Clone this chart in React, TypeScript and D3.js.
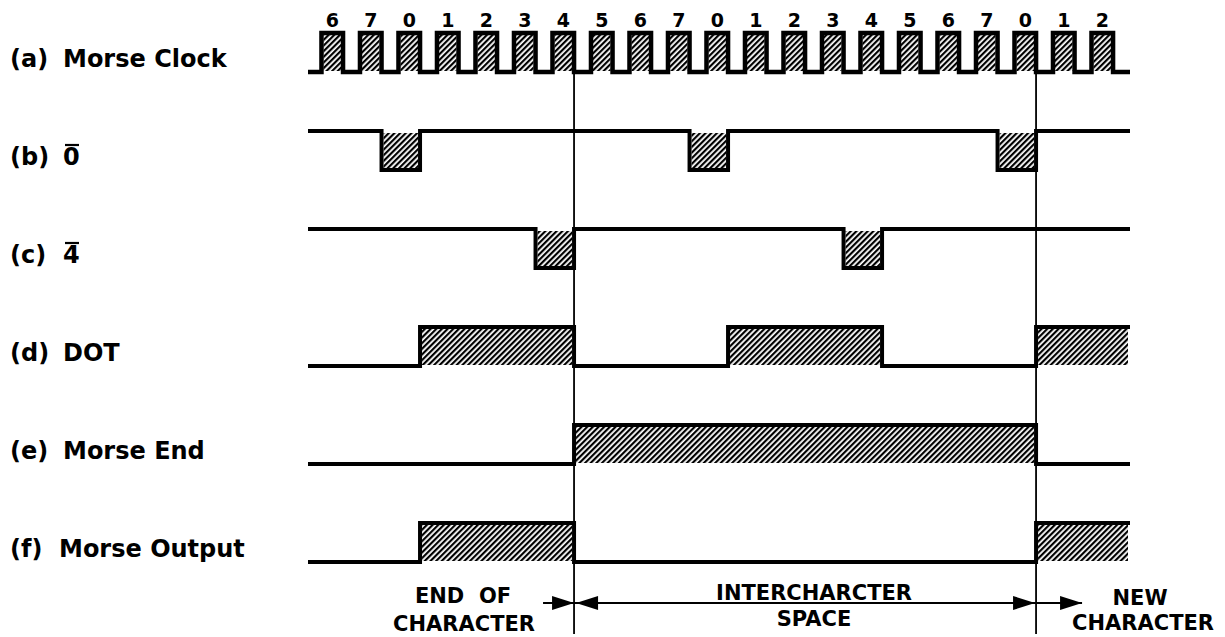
import * as d3 from "d3";

// clock cycle labels, one per clock pulse
const clockLabels = ["6", "7", "0", "1", "2", "3", "4", "5", "6", "7", "0", "1", "2", "3", "4", "5", "6", "7", "0", "1", "2"];

// row labels
const rowKeys = ["a", "b", "c", "d", "e", "f"];
const rowPrefixes = ["(a)", "(b)", "(c)", "(d)", "(e)", "(f)"];
const rowNames = ["Morse Clock", "0", "4", "DOT", "Morse End", "Morse Output"];
const rowOverbar = [false, true, true, false, false, false];

// active intervals in clock cycles (edges fall on the clock's falling edge)
const zeroLow: [number, number][] = [[1, 2], [9, 10], [17, 18]];
const fourLow: [number, number][] = [[5, 6], [13, 14]];
const dotHigh: [number, number][] = [[2, 6], [10, 14], [18, 99]];
const endHigh: [number, number][] = [[6, 18]];
const outputHigh: [number, number][] = [[2, 6], [18, 99]];

// vertical markers (cycle whose falling edge is marked)
const markerCycles = [6, 18];

const leftNote = ["END  OF", "CHARACTER"];
const midNote = ["INTERCHARCTER", "SPACE"];
const rightNote = ["NEW", "CHARACTER"];

const W = 1225;
const H = 637;
const DUTY = 0.56;
const FONT = "'DejaVu Sans', Verdana, sans-serif";

const x = d3.scaleLinear().domain([-0.35, 21]).range([308, 1130]);
const y = d3.scalePoint<string>().domain(rowKeys).range([72, 562]);
const AMP = 39;

const line = d3.line<[number, number]>();

type Sig = { key: string; intervals: [number, number][]; activeLow: boolean };

// build waveform vertices + hatch rects from intervals in raw time units
function wave(intervals: [number, number][], low: number, activeLow: boolean) {
  const [t0, t1] = x.domain();
  const high = low - AMP;
  const idle = activeLow ? high : low;
  const act = activeLow ? low : high;
  const pts: [number, number][] = [[x(t0), idle]];
  const rects: { x0: number; x1: number }[] = [];
  intervals.forEach(([a, b]) => {
    const xa = x(a);
    const bEnd = Math.min(b, t1);
    const xb = x(bEnd);
    pts.push([xa, idle], [xa, act], [xb, act]);
    if (bEnd < t1) pts.push([xb, idle]);
    rects.push({ x0: xa, x1: xb });
  });
  const last = intervals[intervals.length - 1];
  if (Math.min(last[1], t1) < t1) pts.push([x(t1), idle]);
  return { d: line(pts) || "", rects, high, low };
}

export default function App() {
  const clockIntervals = clockLabels.map((_, i) => [i, i + DUTY] as [number, number]);
  const shift = (iv: [number, number][]) => iv.map(([a, b]) => [a + DUTY, b + DUTY] as [number, number]);

  const sigs: Sig[] = [
    { key: "a", intervals: clockIntervals, activeLow: false },
    { key: "b", intervals: shift(zeroLow), activeLow: true },
    { key: "c", intervals: shift(fourLow), activeLow: true },
    { key: "d", intervals: shift(dotHigh), activeLow: false },
    { key: "e", intervals: shift(endHigh), activeLow: false },
    { key: "f", intervals: shift(outputHigh), activeLow: false },
  ];

  const mx = markerCycles.map((c) => x(c + DUTY));
  const arrowY = 603;
  const head = (tipX: number, dir: number) =>
    `M${tipX},${arrowY} L${tipX - dir * 22},${arrowY - 7} L${tipX - dir * 22},${arrowY + 7} Z`;

  return (
    <svg width={W} height={H} style={{ position: "absolute", left: 0, top: 0, background: "#fff" }}>
      <defs>
        <pattern id="hatch" width={4} height={4} patternUnits="userSpaceOnUse" patternTransform="rotate(45)">
          <rect x={0} y={0} width={2.2} height={4} fill="#000" />
        </pattern>
      </defs>

      {/* clock numbers */}
      {clockLabels.map((l, i) => (
        <text key={i} x={x(i + DUTY / 2)} y={27} textAnchor="middle" fontFamily={FONT} fontWeight="bold" fontSize={19}>
          {l}
        </text>
      ))}

      {/* row labels */}
      {rowKeys.map((k, i) => {
        const base = (y(k) as number) - 5;
        return (
          <g key={k} fontFamily={FONT} fontWeight="bold" fontSize={24}>
            <text x={10} y={base}>{rowPrefixes[i]}</text>
            <text x={k === "f" ? 59 : 63} y={base}>{rowNames[i]}</text>
            {rowOverbar[i] && <line x1={65} x2={79} y1={base - 20} y2={base - 20} stroke="#000" strokeWidth={2.2} />}
          </g>
        );
      })}

      {/* markers */}
      {mx.map((v, i) => (
        <line key={i} x1={v} x2={v} y1={72} y2={634} stroke="#000" strokeWidth={1.8} />
      ))}

      {/* waveforms */}
      {sigs.map((s) => {
        const w = wave(s.intervals, y(s.key) as number, s.activeLow);
        return (
          <g key={s.key}>
            {w.rects.map((r, j) => (
              <rect
                key={j}
                x={r.x0 + 2}
                width={Math.max(0, r.x1 - r.x0 - 4)}
                y={w.high + 2}
                height={AMP - 3}
                fill="url(#hatch)"
              />
            ))}
            <path d={w.d} fill="none" stroke="#000" strokeWidth={s.key === "a" ? 4.5 : 4} strokeLinejoin="miter" />
          </g>
        );
      })}

      {/* bottom annotations */}
      <g stroke="#000" strokeWidth={2}>
        <line x1={mx[0] - 31} x2={mx[0]} y1={arrowY} y2={arrowY} />
        <line x1={mx[0]} x2={mx[1]} y1={arrowY} y2={arrowY} />
        <line x1={mx[1]} x2={mx[1] + 46} y1={arrowY} y2={arrowY} />
      </g>
      <g fill="#000">
        <path d={head(mx[0], 1)} />
        <path d={head(mx[0] + 2, -1)} />
        <path d={head(mx[1] - 1, 1)} />
        <path d={head(mx[1] + 46, 1)} />
      </g>
      <g fontFamily={FONT} fontWeight="bold" fontSize={21} textAnchor="middle">
        <text x={mx[0] - 111} y={603} style={{ whiteSpace: "pre" }}>{leftNote[0]}</text>
        <text x={mx[0] - 110} y={631}>{leftNote[1]}</text>
        <text x={(mx[0] + mx[1]) / 2 + 9} y={600}>{midNote[0]}</text>
        <text x={(mx[0] + mx[1]) / 2 + 9} y={626}>{midNote[1]}</text>
        <text x={mx[1] + 104} y={605}>{rightNote[0]}</text>
        <text x={mx[1] + 107} y={630}>{rightNote[1]}</text>
      </g>
    </svg>
  );
}
